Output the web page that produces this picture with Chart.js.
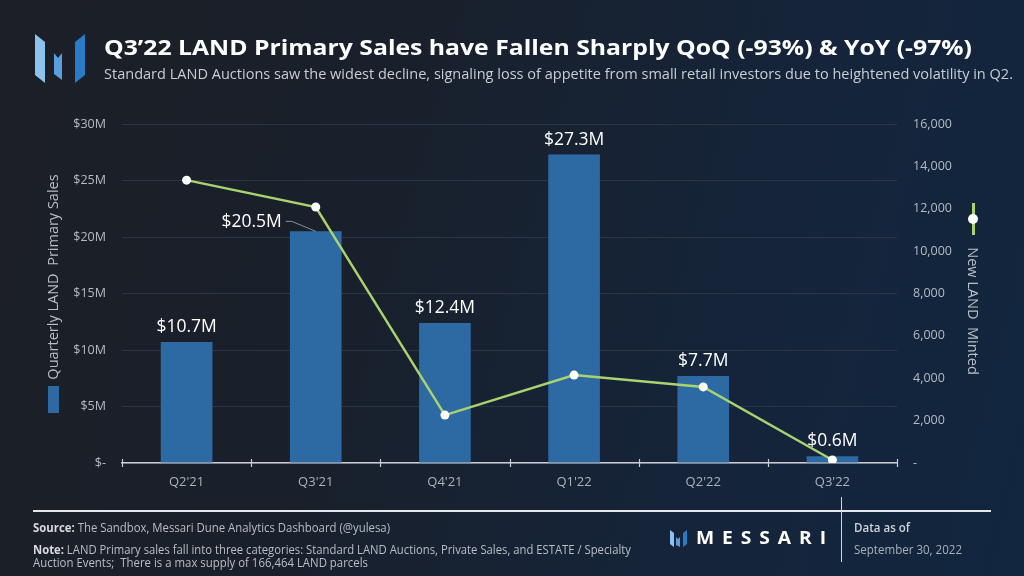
<!DOCTYPE html>
<html><head><meta charset="utf-8">
<script src="https://cdn.jsdelivr.net/npm/chart.js@4/dist/chart.umd.min.js"></script>
<style>
html,body{margin:0;padding:0;}
body{width:1024px;height:576px;overflow:hidden;position:relative;
  background:linear-gradient(105deg,#1c1f26 0%,#19202b 35%,#15243a 70%,#11263f 100%);
  font-family:"Open Sans",sans-serif;}
#wrap{position:absolute;left:0;top:0;width:1024px;height:576px;}
.abs{position:absolute;white-space:nowrap;line-height:1;}
.fit{transform-origin:left center;}
</style></head>
<body>
<div id="wrap"><canvas id="c" width="1024" height="576"></canvas></div>

<svg class="abs" style="left:0;top:0" width="100" height="100">
  <polygon points="35,34 45,42 45,83 35,75" fill="#8cc3ee"/>
  <polygon points="54,53 58,58 62,53 62,80 54,74" fill="#5a9fdb"/>
  <polygon points="85,34 75,42 75,83 85,75" fill="#2a7bc6"/>
</svg>
<div class="abs fit" id="title" style="left:104px;top:35px;font-size:22px;font-weight:700;color:#ffffff;">Q3’22 LAND Primary Sales have Fallen Sharply QoQ (-93%) &amp; YoY (-97%)</div>
<div class="abs fit" id="subtitle" style="left:104px;top:67px;font-size:14px;color:#c9cdd4;">Standard LAND Auctions saw the widest decline, signaling loss of appetite from small retail investors due to heightened volatility in Q2.</div>

<div class="abs" style="left:53px;top:277px;transform:translate(-50%,-50%) rotate(-90deg);font-size:14.5px;font-weight:400;color:#b9bec6;">Quarterly LAND&nbsp; Primary Sales</div>
<div class="abs" style="left:48px;top:386px;width:11px;height:27px;background:#2d6aa3;"></div>

<div class="abs" style="left:973px;top:311px;transform:translate(-50%,-50%) rotate(90deg);font-size:14.5px;font-weight:400;color:#b9bec6;">New LAND&nbsp; Minted</div>
<div class="abs" style="left:971.5px;top:203px;width:3px;height:32px;background:#a9d36e;"></div>
<div class="abs" style="left:968px;top:214px;width:10px;height:10px;border-radius:50%;background:#ffffff;"></div>

<div class="abs" style="left:33px;top:510px;width:958px;height:2px;background:#e3e6ea;"></div>
<div class="abs" style="left:841px;top:497px;width:1px;height:65px;background:#d3d6db;"></div>

<div class="abs fit" id="src" style="left:33px;top:522px;font-size:12.5px;color:#b9bec6;"><b style="color:#d8dbe0;font-weight:700;">Source:</b> The Sandbox, Messari Dune Analytics Dashboard (@yulesa)</div>
<div class="abs fit" id="note1" style="left:33px;top:544px;font-size:12.5px;color:#b9bec6;"><b style="color:#d8dbe0;font-weight:700;">Note:</b> LAND Primary sales fall into three categories: Standard LAND Auctions, Private Sales, and ESTATE / Specialty</div>
<div class="abs fit" id="note2" style="left:33px;top:557px;font-size:12.5px;color:#b9bec6;">Auction Events;&nbsp; There is a max supply of 166,464 LAND parcels</div>

<svg class="abs" style="left:668px;top:528px" width="22" height="20">
  <polygon points="2,2 6,5 6,19 2,16" fill="#8cc3ee"/>
  <polygon points="8,9 10,11 12,9 12,19 8,17" fill="#5a9fdb"/>
  <polygon points="19,2 15,5 15,19 19,16" fill="#2a7bc6"/>
</svg>
<div class="abs fit" id="brand" style="left:696px;top:529px;font-size:17px;font-weight:700;color:#ffffff;letter-spacing:7px;">MESSARI</div>

<div class="abs fit" id="asof" style="left:854px;top:522px;font-size:12.5px;font-weight:600;color:#d0d4da;">Data as of</div>
<div class="abs fit" id="date" style="left:854px;top:544px;font-size:12.5px;color:#aab0b8;">September 30, 2022</div>

<script>
const categories = ["Q2'21", "Q3'21", "Q4'21", "Q1'22", "Q2'22", "Q3'22"];
const primarySalesM = [10.7, 20.5, 12.4, 27.3, 7.7, 0.6];
const salesLabels = ["$10.7M", "$20.5M", "$12.4M", "$27.3M", "$7.7M", "$0.6M"];
const newLandMinted = [13350, 12080, 2260, 4150, 3590, 140];
const leftTickValues = [0, 5, 10, 15, 20, 25, 30];
const rightTickValues = [0, 2000, 4000, 6000, 8000, 10000, 12000, 14000, 16000];

function fitWidth(id, w){
  const el = document.getElementById(id);
  const r = el.getBoundingClientRect().width;
  el.style.transform = 'scaleX(' + (w / r) + ')';
}
fitWidth('title', 868);
fitWidth('subtitle', 909);
fitWidth('src', 357);
fitWidth('note1', 598);
fitWidth('note2', 335);
fitWidth('brand', 138);
fitWidth('asof', 56);
fitWidth('date', 108);

const barLabelPlugin = {
  id: 'barLabels',
  afterDatasetDraw(chart, args) {
    if (args.index !== 0) return;
    const ctx = chart.ctx;
    const meta = chart.getDatasetMeta(0);
    ctx.save();
    ctx.font = '17.5px "Open Sans"';
    ctx.fillStyle = '#ffffff';
    meta.data.forEach((el, i) => {
      const lbl = salesLabels[i];
      if (i === 1) {
        ctx.textAlign = 'right';
        ctx.textBaseline = 'middle';
        ctx.fillText(lbl, el.x - 34, el.y - 9);
        ctx.strokeStyle = '#8b9099';
        ctx.lineWidth = 1;
        ctx.beginPath();
        ctx.moveTo(el.x - 30, el.y - 10);
        ctx.lineTo(el.x - 24, el.y - 10);
        ctx.lineTo(el.x, el.y);
        ctx.stroke();
      } else {
        ctx.textAlign = 'center';
        ctx.textBaseline = 'alphabetic';
        ctx.fillText(lbl, el.x, el.y - 10);
      }
    });
    ctx.restore();
  }
};

const tickMarkPlugin = {
  id: 'xTickMarks',
  afterDraw(chart) {
    const xs = chart.scales.x;
    const ctx = chart.ctx;
    ctx.save();
    ctx.strokeStyle = '#c9ced6';
    ctx.lineWidth = 1.2;
    for (let i = 0; i <= categories.length; i++) {
      const px = Math.round(xs.getPixelForValue(i - 0.5)) + 0.5;
      ctx.beginPath();
      ctx.moveTo(px, xs.top - 4);
      ctx.lineTo(px, xs.top + 4);
      ctx.stroke();
    }
    ctx.restore();
  }
};

new Chart(document.getElementById('c'), {
  data: {
    labels: categories,
    datasets: [
      {
        type: 'bar',
        label: 'Quarterly LAND Primary Sales',
        data: primarySalesM,
        backgroundColor: '#2d6aa3',
        yAxisID: 'y',
        categoryPercentage: 1,
        barPercentage: 0.4,
        order: 1
      },
      {
        type: 'line',
        label: 'New LAND Minted',
        data: newLandMinted,
        borderColor: '#a9d36e',
        borderWidth: 2.5,
        pointRadius: 4.5,
        pointBackgroundColor: '#ffffff',
        pointBorderWidth: 0,
        tension: 0,
        yAxisID: 'y1',
        order: 0
      }
    ]
  },
  options: {
    responsive: false,
    animation: false,
    layout: { padding: { top: 124, bottom: 73, left: 0, right: 0 } },
    plugins: { legend: { display: false }, tooltip: { enabled: false } },
    scales: {
      x: {
        offset: true,
        grid: { display: false, drawTicks: false },
        border: { display: true, color: '#c9ced6', width: 1.5 },
        ticks: { color: '#adb3bb', font: { family: 'Open Sans', size: 13 }, padding: 11 },
        afterFit(s) { s.height = 40; }
      },
      y: {
        position: 'left',
        min: 0, max: 30,
        afterBuildTicks(s) { s.ticks = leftTickValues.map(v => ({ value: v })); },
        grid: { color: '#2c3545', lineWidth: 1, drawTicks: false },
        border: { display: false },
        ticks: {
          color: '#b6bbc3', font: { family: 'Open Sans', size: 12.5 }, padding: 16,
          callback: v => v === 0 ? '$-' : '$' + v + 'M'
        },
        afterFit(s) { s.width = 122; }
      },
      y1: {
        position: 'right',
        min: 0, max: 16000,
        afterBuildTicks(s) { s.ticks = rightTickValues.map(v => ({ value: v })); },
        grid: { display: false, drawTicks: false },
        border: { display: false },
        ticks: {
          color: '#b6bbc3', font: { family: 'Open Sans', size: 12.5 }, padding: 16,
          callback: v => v === 0 ? '-' : v.toLocaleString('en-US')
        },
        afterFit(s) { s.width = 127; }
      }
    }
  },
  plugins: [barLabelPlugin, tickMarkPlugin]
});
</script>
</body></html>
